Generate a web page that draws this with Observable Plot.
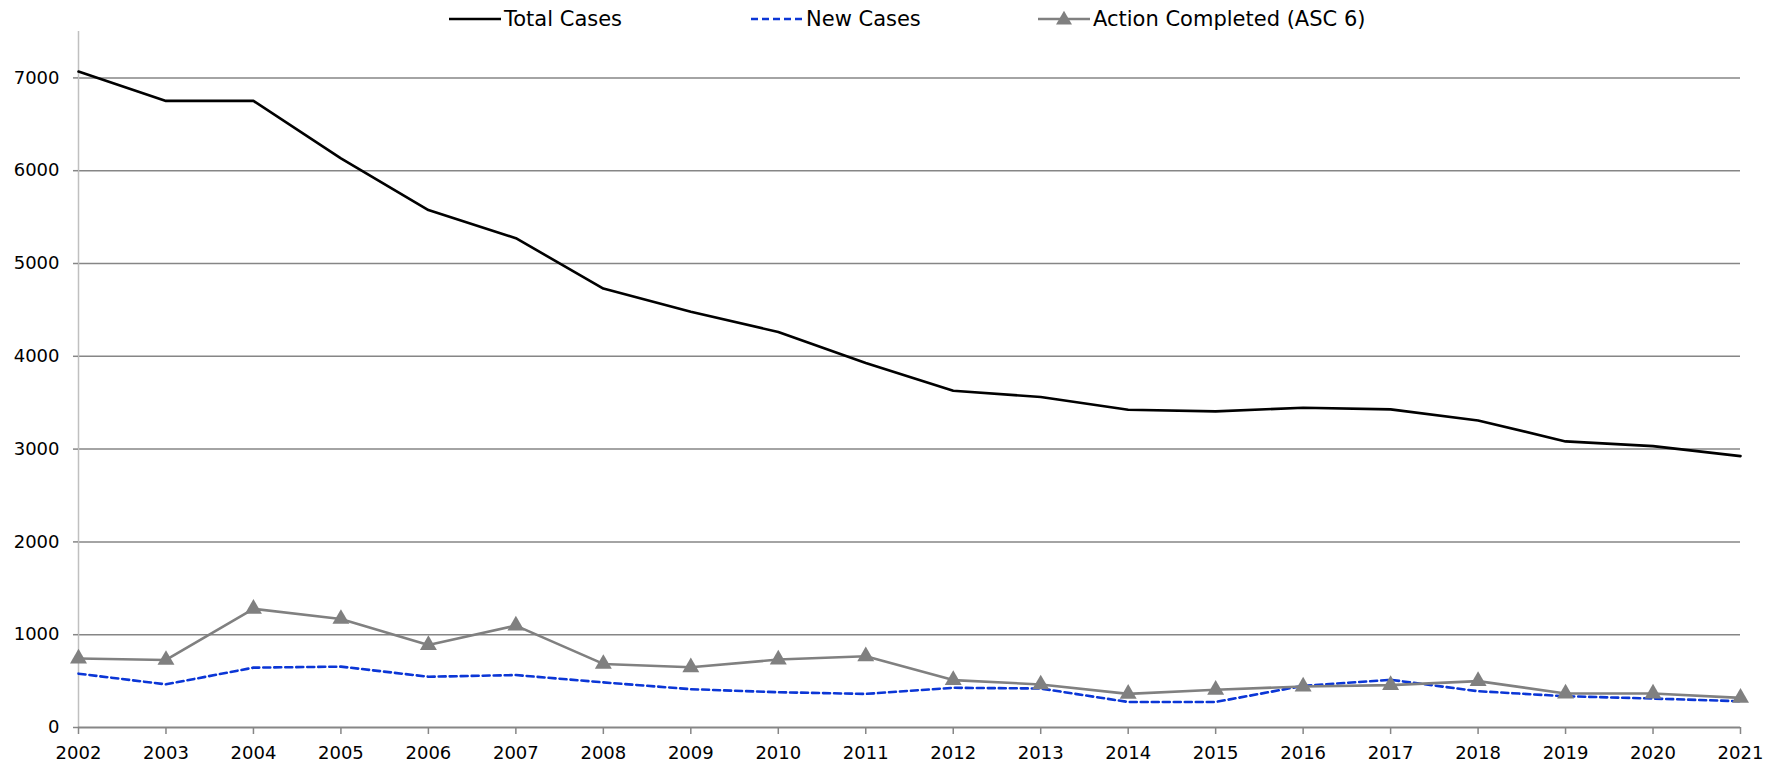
<!DOCTYPE html>
<html>
<head>
<meta charset="utf-8">
<script src="https://cdn.jsdelivr.net/npm/d3@7"></script>
<script src="https://cdn.jsdelivr.net/npm/@observablehq/plot@0.6"></script>
<style>
  html, body { margin: 0; padding: 0; background: #fff; }
  #wrap { position: relative; width: 1786px; height: 767px; font-family: "DejaVu Sans", Verdana, sans-serif; }
  #legend { position: absolute; left: 0; top: 0; width: 1786px; height: 38px; z-index: 2; }
  .item { position: absolute; top: 0; height: 38px; display: flex; align-items: center; font-size: 21px; color: #000; white-space: nowrap; }
  .item svg { display: block; margin-right: 3px; }
</style>
</head>
<body>
<div id="wrap">
  <div id="legend"></div>
  <div id="chart"></div>
</div>
<script>
// ---- data ----
const years = [2002, 2003, 2004, 2005, 2006, 2007, 2008, 2009, 2010, 2011,
               2012, 2013, 2014, 2015, 2016, 2017, 2018, 2019, 2020, 2021];
const totalCases = [7068, 6752, 6752, 6133, 5576, 5273, 4730, 4480, 4262, 3928,
                    3629, 3561, 3424, 3406, 3446, 3428, 3309, 3083, 3032, 2924];
const newCases = [580, 465, 645, 656, 547, 565, 486, 413, 380, 362,
                  428, 420, 275, 275, 449, 514, 391, 337, 312, 283];
const actionCompleted = [743, 728, 1279, 1170, 888, 1098, 685, 649, 732, 768,
                         511, 464, 362, 406, 442, 457, 500, 366, 366, 319];
const yTicks = [0, 1000, 2000, 3000, 4000, 5000, 6000, 7000];
const seriesNames = ["Total Cases", "New Cases", "Action Completed (ASC 6)"];

// ---- styling / layout ----
const colTotal = "#000000", colNew = "#0b36d6", colAction = "#808080";
const gridCol = "#868686";

const rows = years.map((y, i) => ({year: y, total: totalCases[i], newc: newCases[i], action: actionCompleted[i]}));

const chart = Plot.plot({
  width: 1786,
  height: 767,
  marginLeft: 78,
  marginRight: 46,
  marginTop: 31,
  marginBottom: 40,
  style: {fontFamily: "'DejaVu Sans', Verdana, sans-serif", fontSize: "18px", color: "#000", background: "#fff"},
  x: {domain: [2002, 2021], label: null},
  y: {domain: [0, 7500], label: null},
  marks: [
    Plot.ruleY(yTicks.filter(d => d > 0), {stroke: gridCol, strokeWidth: 1.5}),
    Plot.ruleX([2002], {stroke: "#c0c0c0", strokeWidth: 1.5}),
    Plot.axisY({ticks: yTicks, tickSize: 5, tickPadding: 14, stroke: gridCol, strokeWidth: 1.5, label: null, tickFormat: d => String(d), fontSize: 18}),
    Plot.axisX({ticks: years, tickSize: 7, tickPadding: 12, stroke: gridCol, strokeWidth: 1.5, label: null, tickFormat: d => String(d), fontSize: 18}),
    Plot.ruleY([0], {stroke: gridCol, strokeWidth: 2}),
    Plot.line(rows, {x: "year", y: "total", stroke: colTotal, strokeWidth: 2.6}),
    Plot.line(rows, {x: "year", y: "newc", stroke: colNew, strokeWidth: 2.6, strokeDasharray: "7,4"}),
    Plot.line(rows, {x: "year", y: "action", stroke: colAction, strokeWidth: 2.6}),
    Plot.dot(rows, {x: "year", y: "action", symbol: "triangle", r: 6.3, fill: colAction, stroke: "none"})
  ]
});
document.getElementById("chart").appendChild(chart);

// ---- legend ----
const legendLayout = [
  {left: 449, kind: "solid", color: colTotal},
  {left: 751, kind: "dash", color: colNew},
  {left: 1038, kind: "tri", color: colAction}
];
const legend = document.getElementById("legend");
seriesNames.forEach((name, i) => {
  const L = legendLayout[i];
  const div = document.createElement("div");
  div.className = "item";
  div.style.left = L.left + "px";
  const ns = "http://www.w3.org/2000/svg";
  const svg = document.createElementNS(ns, "svg");
  svg.setAttribute("width", 52);
  svg.setAttribute("height", 20);
  const ln = document.createElementNS(ns, "line");
  ln.setAttribute("x1", 0); ln.setAttribute("x2", 52);
  ln.setAttribute("y1", 10); ln.setAttribute("y2", 10);
  ln.setAttribute("stroke", L.color);
  ln.setAttribute("stroke-width", 2.6);
  if (L.kind === "dash") ln.setAttribute("stroke-dasharray", "7,4");
  svg.appendChild(ln);
  if (L.kind === "tri") {
    const p = document.createElementNS(ns, "path");
    p.setAttribute("d", d3.symbol(d3.symbolTriangle, 110)());
    p.setAttribute("transform", "translate(26,11)");
    p.setAttribute("fill", L.color);
    svg.appendChild(p);
  }
  div.appendChild(svg);
  const span = document.createElement("span");
  span.textContent = name;
  div.appendChild(span);
  legend.appendChild(div);
});
</script>
</body>
</html>
